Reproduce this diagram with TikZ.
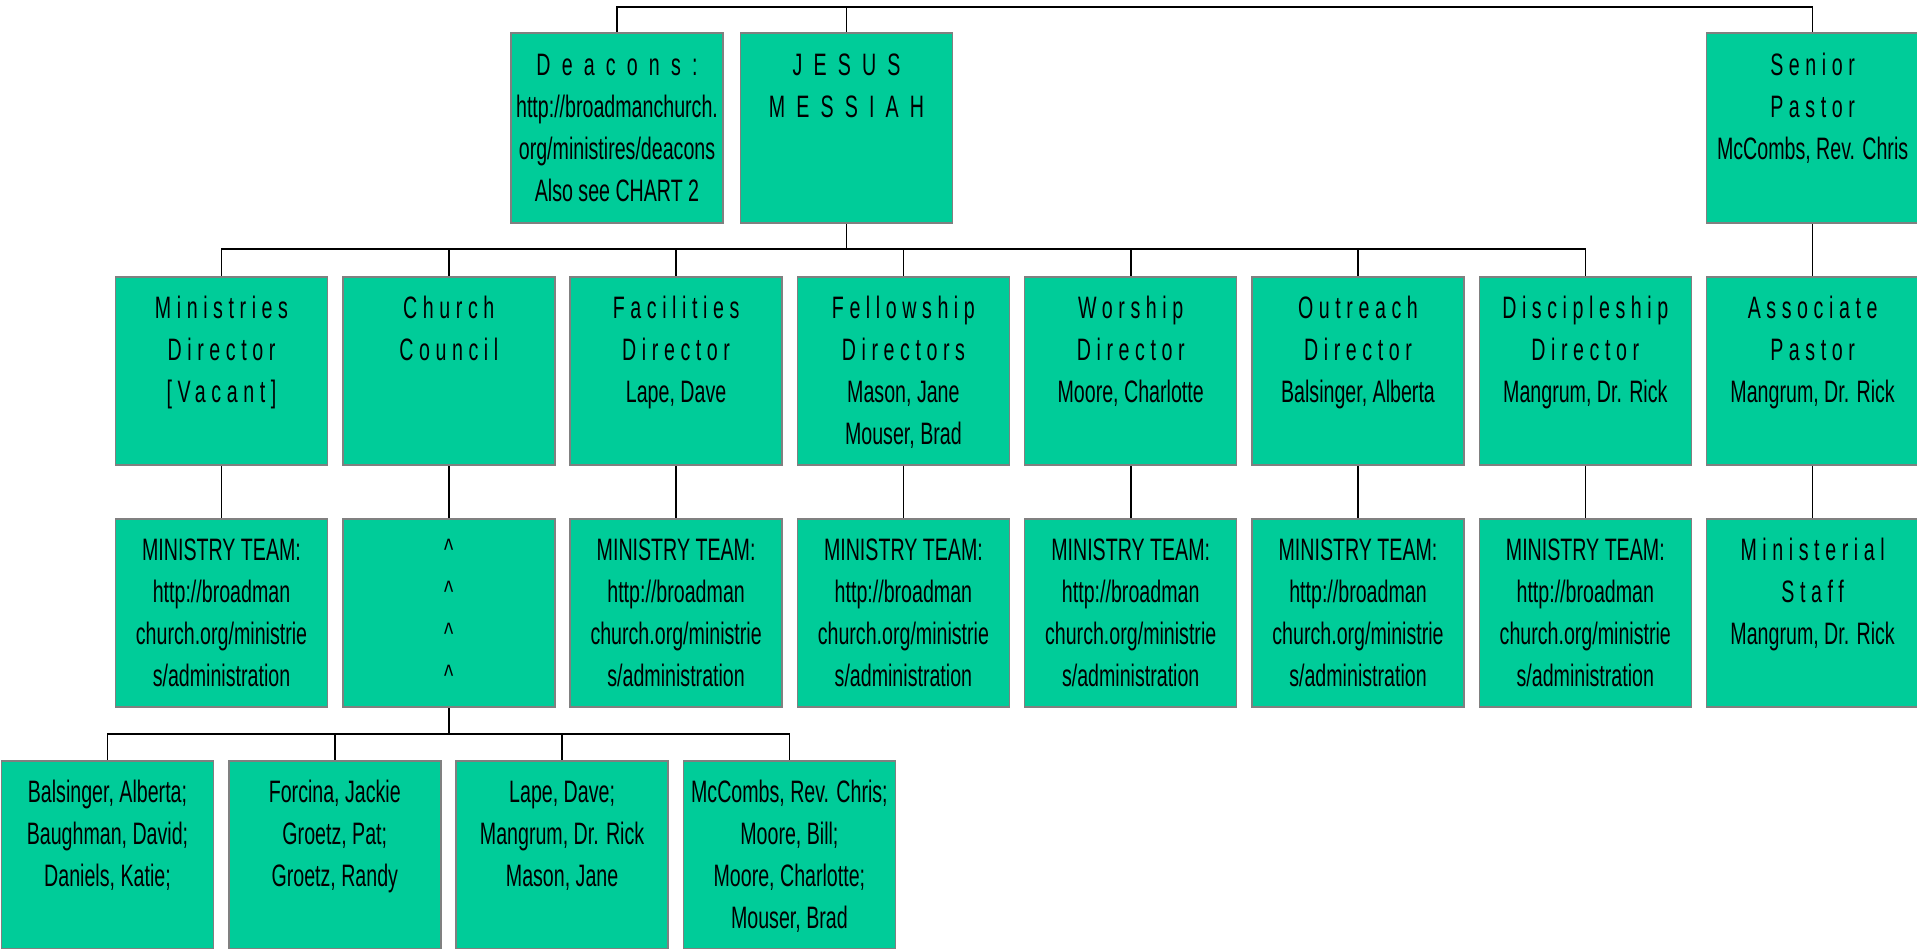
\documentclass[tikz,border=0pt]{standalone}
\usepackage{fontspec}
\setmainfont{Liberation Sans}[FakeStretch=0.633]
\newfontfamily\spfont{Liberation Sans}[FakeStretch=0.633,LetterSpace=18]
\newfontfamily\wspfont{Liberation Sans}[FakeStretch=0.633,LetterSpace=36]
\definecolor{boxgreen}{RGB}{0,204,153}
\definecolor{boxline}{RGB}{128,128,128}
\newcommand\bt[1]{\parbox[c][188pt][t]{212pt}{\centering\fontsize{31}{42}\selectfont\rule{0pt}{41pt}#1\par}}
\newcommand\ls[1]{{\spfont #1}}
\newcommand\lw[1]{{\wspfont #1}}
\pgfdeclarelayer{bg}
\pgfsetlayers{bg,main}
\tikzset{
  orgbox/.style={rectangle, draw=boxline, fill=boxgreen, line width=1.5pt, inner sep=0pt, minimum width=212pt, minimum height=188pt},
  conn/.style={line width=1.6pt, draw=black}
}
\begin{document}
\begin{tikzpicture}[x=1pt,y=-1pt]
\useasboundingbox (0,0) rectangle (1917,948);
\coordinate (b1) at (0,7);
\coordinate (b2) at (0,249);
\coordinate (b3) at (0,734);
% row 1
\node[orgbox, minimum height=190pt] (deacons) at (617,128) {\bt{\lw{Deacons:}\\http://broadmanchurch.\\org/ministires/deacons\\Also see CHART 2}};
\node[orgbox, minimum height=190pt] (jesus) at (846.5,128) {\bt{\lw{JESUS}\\\lw{MESSIAH}}};
\node[orgbox, minimum height=190pt] (sp) at (1812.6,128) {\bt{\ls{Senior}\\\ls{Pastor}\\McCombs, Rev. Chris}};
% row 2
\node[orgbox] (md) at (221.5,371) {\bt{\ls{Ministries}\\\ls{Director}\\\ls{[Vacant]}}};
\node[orgbox] (cc) at (448.8,371) {\bt{\ls{Church}\\\ls{Council}}};
\node[orgbox] (fd) at (676.1,371) {\bt{\ls{Facilities}\\\ls{Director}\\Lape, Dave}};
\node[orgbox] (fw) at (903.4,371) {\bt{\ls{Fellowship}\\\ls{Directors}\\Mason, Jane\\Mouser, Brad}};
\node[orgbox] (wd) at (1130.7,371) {\bt{\ls{Worship}\\\ls{Director}\\Moore, Charlotte}};
\node[orgbox] (od) at (1358,371) {\bt{\ls{Outreach}\\\ls{Director}\\Balsinger, Alberta}};
\node[orgbox] (dd) at (1585.3,371) {\bt{\ls{Discipleship}\\\ls{Director}\\Mangrum, Dr. Rick}};
\node[orgbox] (ap) at (1812.6,371) {\bt{\ls{Associate}\\\ls{Pastor}\\Mangrum, Dr. Rick}};
% row 3
\node[orgbox] (mt1) at (221.5,613) {\bt{MINISTRY TEAM:\\http://broadman\\church.org/ministrie\\s/administration}};
\node[orgbox] (ccl) at (448.8,613) {\bt{\textasciicircum\\\textasciicircum\\\textasciicircum\\\textasciicircum}};
\node[orgbox] (mt3) at (676.1,613) {\bt{MINISTRY TEAM:\\http://broadman\\church.org/ministrie\\s/administration}};
\node[orgbox] (mt4) at (903.4,613) {\bt{MINISTRY TEAM:\\http://broadman\\church.org/ministrie\\s/administration}};
\node[orgbox] (mt5) at (1130.7,613) {\bt{MINISTRY TEAM:\\http://broadman\\church.org/ministrie\\s/administration}};
\node[orgbox] (mt6) at (1358,613) {\bt{MINISTRY TEAM:\\http://broadman\\church.org/ministrie\\s/administration}};
\node[orgbox] (mt7) at (1585.3,613) {\bt{MINISTRY TEAM:\\http://broadman\\church.org/ministrie\\s/administration}};
\node[orgbox] (ms) at (1812.6,613) {\bt{\ls{Ministerial}\\\ls{Staff}\\Mangrum, Dr. Rick}};
% row 4
\node[orgbox] (m1) at (107.5,855) {\bt{Balsinger, Alberta;\\Baughman, David;\\Daniels, Katie;}};
\node[orgbox] (m2) at (334.8,855) {\bt{Forcina, Jackie\\Groetz, Pat;\\Groetz, Randy}};
\node[orgbox] (m3) at (562.1,855) {\bt{Lape, Dave;\\Mangrum, Dr. Rick\\Mason, Jane}};
\node[orgbox] (m4) at (789.4,855) {\bt{McCombs, Rev. Chris;\\Moore, Bill;\\Moore, Charlotte;\\Mouser, Brad}};
% connectors
\begin{pgfonlayer}{bg}
\draw[conn] (jesus.north) |- (deacons.north |- b1) -- (deacons.north);
\draw[conn] (jesus.north) |- (sp.north |- b1) -- (sp.north);
\foreach \n in {md,cc,fd,fw,wd,od,dd}
  \draw[conn] (jesus.south) |- (\n.north |- b2) -- (\n.north);
\draw[conn] (sp.south) -- (ap.north);
\foreach \a/\b in {md/mt1,cc/ccl,fd/mt3,fw/mt4,wd/mt5,od/mt6,dd/mt7,ap/ms}
  \draw[conn] (\a.south) -- (\b.north);
\foreach \n in {m1,m2,m3,m4}
  \draw[conn] (ccl.south) |- (\n.north |- b3) -- (\n.north);
\end{pgfonlayer}
\end{tikzpicture}
\end{document}
